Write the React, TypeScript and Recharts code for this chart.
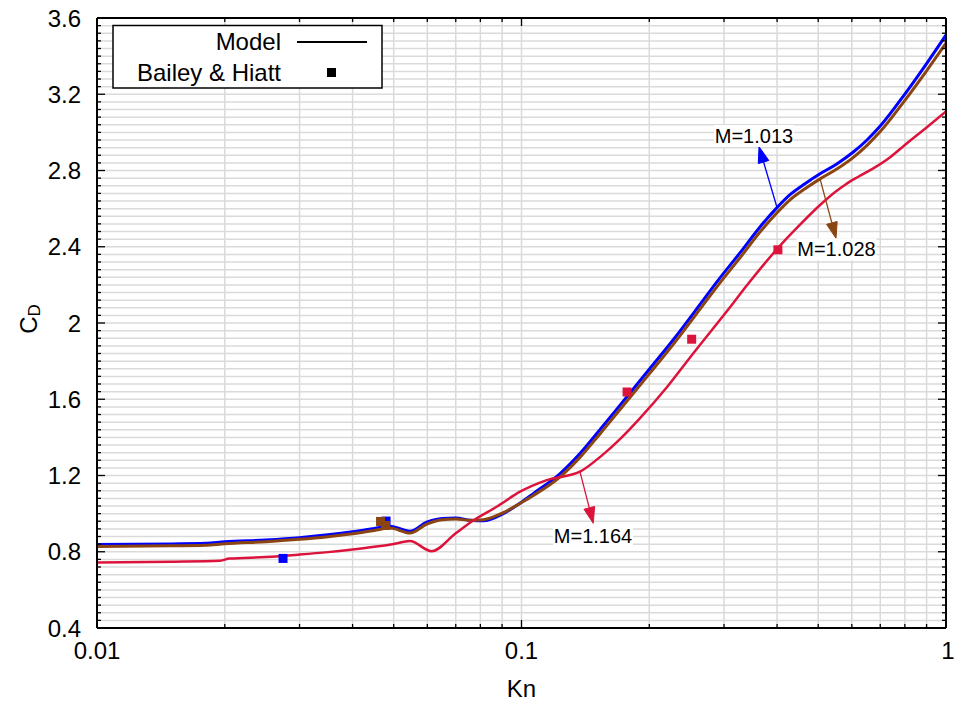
import React from 'react';
import {
  ComposedChart,
  Line,
  Scatter,
  XAxis,
  YAxis,
  CartesianGrid,
  ReferenceLine,
  ReferenceDot,
  Label,
} from 'recharts';

const FONT = '"Liberation Sans", Arial, sans-serif';

// model curves, Kn vs C_D
const knM1013 = [0.01, 0.015, 0.018, 0.02, 0.025, 0.03, 0.035, 0.04, 0.045, 0.049, 0.0546, 0.0598, 0.065, 0.07, 0.0757, 0.0813, 0.0906, 0.1, 0.1066, 0.1233, 0.1373, 0.153, 0.1737, 0.2, 0.23, 0.268, 0.291, 0.3284, 0.3646, 0.3994, 0.4291, 0.4654, 0.505, 0.5507, 0.605, 0.6515, 0.7, 0.8, 0.9, 1.0];
const cdM1013 = [0.838, 0.841, 0.844, 0.852, 0.862, 0.874, 0.889, 0.905, 0.922, 0.934, 0.908, 0.955, 0.975, 0.977, 0.965, 0.962, 1.0, 1.06, 1.105, 1.21, 1.315, 1.44, 1.59, 1.757, 1.924, 2.12, 2.226, 2.373, 2.504, 2.604, 2.673, 2.731, 2.783, 2.832, 2.897, 2.96, 3.033, 3.201, 3.361, 3.511];

const knM1028 = knM1013;
const cdM1028 = [0.828, 0.831, 0.834, 0.842, 0.853, 0.865, 0.879, 0.895, 0.912, 0.924, 0.898, 0.945, 0.968, 0.972, 0.965, 0.968, 1.005, 1.058, 1.095, 1.193, 1.295, 1.418, 1.567, 1.733, 1.9, 2.095, 2.2, 2.347, 2.477, 2.577, 2.646, 2.704, 2.756, 2.805, 2.869, 2.932, 3.004, 3.168, 3.323, 3.468];

const knM1164 = [0.01, 0.015, 0.0195, 0.0205, 0.025, 0.03, 0.035, 0.04, 0.045, 0.05, 0.0546, 0.0614, 0.07, 0.077, 0.088, 0.0992, 0.1147, 0.1373, 0.155, 0.1706, 0.19, 0.22, 0.25, 0.3155, 0.339, 0.4, 0.45, 0.505, 0.55, 0.58, 0.62, 0.674, 0.74, 0.8, 0.9, 1.0];
const cdM1164 = [0.743, 0.748, 0.753, 0.764, 0.772, 0.785, 0.798, 0.812, 0.826, 0.841, 0.856, 0.803, 0.897, 0.964, 1.04, 1.115, 1.176, 1.22, 1.307, 1.391, 1.5, 1.663, 1.822, 2.105, 2.195, 2.388, 2.509, 2.619, 2.69, 2.727, 2.766, 2.811, 2.871, 2.934, 3.026, 3.11];

// Bailey & Hiatt experiments
const knExpBlue = [0.02743, 0.04797];
const cdExpBlue = [0.765, 0.961];
const knExpBrown = [0.04655, 0.04784];
const cdExpBrown = [0.959, 0.938];
const knExpRed = [0.1773, 0.2517, 0.4018];
const cdExpRed = [1.638, 1.915, 2.384];

// axis ticks
const xMajorTicks = [0.01, 0.1, 1];
const xMinorTicks = [0.02, 0.03, 0.04, 0.05, 0.06, 0.07, 0.08, 0.09, 0.2, 0.3, 0.4, 0.5, 0.6, 0.7, 0.8, 0.9];
const xTickLabels = ['0.01', '0.1', '1'];
const yMajorTicks = [0.4, 0.8, 1.2, 1.6, 2, 2.4, 2.8, 3.2, 3.6];
const yMinorStep = 0.04;

// annotations: arrow from curve to tip, then the note text
const arrowColors = ['#0000ff', '#8b4513', '#dc143c'];
const arrowFrom = [[0.3994, 2.61], [0.505, 2.756], [0.1373, 1.22]];
const arrowTip = [[0.3627, 2.925], [0.5507, 2.444], [0.1476, 0.949]];
const noteAt = [[0.3529, 2.981], [0.5521, 2.386], [0.1474, 0.883]];
const noteText = ['M=1.013', 'M=1.028', 'M=1.164'];

const pts = (kn: number[], cd: number[]) => kn.map((k, i) => ({ kn: k, cd: cd[i] }));

const xAllTicks = [...xMajorTicks, ...xMinorTicks].sort((a, b) => a - b);
const yAllTicks: number[] = [];
for (let v = 0.4; v <= 3.6001; v += yMinorStep) yAllTicks.push(Math.round(v * 100) / 100);

const isMajor = (list: number[], v: number) => list.some((m) => Math.abs(m - v) < 1e-6);

const BottomTick = (props: any) => {
  const { x, y, payload } = props;
  const major = isMajor(xMajorTicks, payload.value);
  const idx = xMajorTicks.findIndex((m) => Math.abs(m - payload.value) < 1e-6);
  return (
    <g>
      <line x1={x} x2={x} y1={y} y2={y - (major ? 8 : 4)} stroke="#000" strokeWidth={1.3} />
      {major && (
        <text x={idx === 2 ? x + 2 : x} y={y + 31} textAnchor="middle" fontSize={24} fontFamily={FONT} fill="#000">
          {xTickLabels[idx]}
        </text>
      )}
    </g>
  );
};

const TopTick = (props: any) => {
  const { x, y, payload } = props;
  const major = isMajor(xMajorTicks, payload.value);
  return <line x1={x} x2={x} y1={y} y2={y + (major ? 8 : 4)} stroke="#000" strokeWidth={1.3} />;
};

const LeftTick = (props: any) => {
  const { x, y, payload } = props;
  const major = isMajor(yMajorTicks, payload.value);
  return (
    <g>
      <line x1={x} x2={x + (major ? 8 : 4)} y1={y} y2={y} stroke="#000" strokeWidth={1.3} />
      {major && (
        <text x={x - 16} y={y + 8.5} textAnchor="end" fontSize={24} fontFamily={FONT} fill="#000">
          {String(payload.value)}
        </text>
      )}
    </g>
  );
};

const RightTick = (props: any) => {
  const { x, y, payload } = props;
  const major = isMajor(yMajorTicks, payload.value);
  return <line x1={x} x2={x - (major ? 8 : 4)} y1={y} y2={y} stroke="#000" strokeWidth={1.3} />;
};

const arrowShape = (color: string) => (props: any) => {
  const { x1, y1, x2, y2 } = props;
  const dx = x2 - x1;
  const dy = y2 - y1;
  const len = Math.sqrt(dx * dx + dy * dy);
  const ux = dx / len;
  const uy = dy / len;
  const head = 16;
  const half = 5.5;
  const bx = x2 - ux * head;
  const by = y2 - uy * head;
  return (
    <g>
      <line x1={x1} y1={y1} x2={bx} y2={by} stroke={color} strokeWidth={1.3} />
      <polygon
        points={`${x2},${y2} ${bx - uy * half},${by + ux * half} ${bx + uy * half},${by - ux * half}`}
        fill={color}
        stroke={color}
        strokeWidth={1}
      />
    </g>
  );
};

const noteShape = (text: string) => (props: any) => {
  const { cx, cy } = props;
  return (
    <g>
      <rect x={cx - 40} y={cy - 11} width={80} height={22} fill="#fff" />
      <text x={cx} y={cy + 7} textAnchor="middle" fontSize={20} fontFamily={FONT} fill="#000">
        {text}
      </text>
    </g>
  );
};

const square = (color: string) => (props: any) => (
  <rect x={props.cx - 4.5} y={props.cy - 4.5} width={9} height={9} fill={color} />
);

export default function App() {
  return (
    <div style={{ position: 'absolute', left: 0, top: 0, width: 958, height: 706, background: '#fff' }}>
      <ComposedChart width={958} height={706} margin={{ top: 17, right: 11, bottom: 0, left: 0 }}>
        <CartesianGrid xAxisId="top" yAxisId="right" stroke="#dadada" strokeWidth={1.5} />
        <XAxis
          dataKey="kn"
          type="number"
          scale="log"
          domain={[0.01, 1]}
          allowDataOverflow
          ticks={xAllTicks}
          interval={0}
          tick={<BottomTick />}
          tickLine={false}
          tickSize={0}
          tickMargin={0}
          height={78}
          axisLine={{ stroke: '#000', strokeWidth: 2 }}
        >
          <Label
            content={(p: any) => (
              <text
                x={p.viewBox.x + p.viewBox.width / 2}
                y={p.viewBox.y + 69}
                textAnchor="middle"
                fontSize={24}
                fontFamily={FONT}
                fill="#000"
              >
                Kn
              </text>
            )}
          />
        </XAxis>
        <XAxis
          xAxisId="top"
          orientation="top"
          dataKey="kn"
          type="number"
          scale="log"
          domain={[0.01, 1]}
          allowDataOverflow
          ticks={xAllTicks}
          interval={0}
          tick={<TopTick />}
          tickLine={false}
          tickSize={0}
          tickMargin={0}
          height={1}
          axisLine={{ stroke: '#000', strokeWidth: 2 }}
        />
        <YAxis
          type="number"
          domain={[0.4, 3.6]}
          allowDataOverflow
          ticks={yAllTicks}
          interval={0}
          tick={<LeftTick />}
          tickLine={false}
          tickSize={0}
          tickMargin={0}
          width={97}
          axisLine={{ stroke: '#000', strokeWidth: 2 }}
        >
          <Label
            content={(p: any) => {
              const cy = p.viewBox.y + p.viewBox.height / 2 - 4;
              return (
                <text
                  x={28}
                  y={cy}
                  transform={`rotate(-90, 28, ${cy})`}
                  textAnchor="middle"
                  fontSize={24}
                  fontFamily={FONT}
                  fill="#000"
                  dominantBaseline="central"
                >
                  C
                  <tspan fontSize={17} dy={6}>
                    D
                  </tspan>
                </text>
              );
            }}
          />
        </YAxis>
        <YAxis
          yAxisId="right"
          orientation="right"
          type="number"
          domain={[0.4, 3.6]}
          allowDataOverflow
          ticks={yAllTicks}
          interval={0}
          tick={<RightTick />}
          tickLine={false}
          tickSize={0}
          tickMargin={0}
          width={1}
          axisLine={{ stroke: '#000', strokeWidth: 2 }}
        />

        <Line data={pts(knM1013, cdM1013)} dataKey="cd" type="monotone" stroke="#0000ff" strokeWidth={3} dot={false} isAnimationActive={false} />
        <Line data={pts(knM1028, cdM1028)} dataKey="cd" type="monotone" stroke="#8b4513" strokeWidth={3} dot={false} isAnimationActive={false} />
        <Line data={pts(knM1164, cdM1164)} dataKey="cd" type="monotone" stroke="#dc143c" strokeWidth={2.5} dot={false} isAnimationActive={false} />

        <Scatter data={pts(knExpBlue, cdExpBlue)} dataKey="cd" shape={square('#0000ff')} isAnimationActive={false} />
        <Scatter data={pts(knExpBrown, cdExpBrown)} dataKey="cd" shape={square('#8b4513')} isAnimationActive={false} />
        <Scatter data={pts(knExpRed, cdExpRed)} dataKey="cd" shape={square('#dc143c')} isAnimationActive={false} />

        {arrowFrom.map((f, i) => (
          <ReferenceLine
            key={`arrow-${i}`}
            segment={[
              { x: f[0], y: f[1] },
              { x: arrowTip[i][0], y: arrowTip[i][1] },
            ]}
            shape={arrowShape(arrowColors[i])}
          />
        ))}
        {noteAt.map((n, i) => (
          <ReferenceDot key={`note-${i}`} x={n[0]} y={n[1]} r={0} shape={noteShape(noteText[i])} />
        ))}
      </ComposedChart>

      <svg width={272} height={66} style={{ position: 'absolute', left: 112, top: 24 }}>
        <rect x={1} y={1.5} width={269} height={62.5} fill="#fff" stroke="#000" strokeWidth={1.5} />
        <text x={169} y={26} textAnchor="end" fontSize={24} fontFamily={FONT} fill="#000">
          Model
        </text>
        <line x1={185} x2={255} y1={18} y2={18} stroke="#000" strokeWidth={2} />
        <text x={169} y={57} textAnchor="end" fontSize={24} fontFamily={FONT} fill="#000">
          Bailey &amp; Hiatt
        </text>
        <rect x={215} y={44} width={9} height={9} fill="#000" />
      </svg>
    </div>
  );
}
